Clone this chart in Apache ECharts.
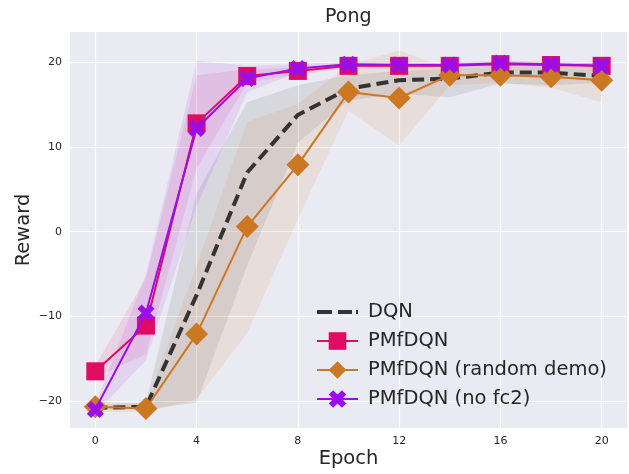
<!DOCTYPE html>
<html>
<head>
<meta charset="utf-8">
<script src="https://cdn.jsdelivr.net/npm/echarts@6/dist/echarts.min.js"></script>
<style>html,body{margin:0;padding:0;background:#fff}#c{width:629px;height:474px}</style>
</head>
<body>
<div id="c"></div>
<script>
const epochs = [0, 2, 4, 6, 8, 10, 12, 14, 16, 18, 20];
const xTicks = [0, 4, 8, 12, 16, 20];
const yTicks = [-20, -10, 0, 10, 20];
const names = ['DQN', 'PMfDQN', 'PMfDQN (random demo)', 'PMfDQN (no fc2)'];

const dqn   = [-20.8, -20.7, -7.5, 7.0, 13.8, 16.9, 17.9, 18.1, 18.8, 18.8, 18.4];
const dqnLo = [-21.0, -21.0, -20.2, -4.0, 10.5, 15.5, 16.3, 15.9, 17.5, 17.3, 17.6];
const dqnHi = [-20.5, -20.2, 4.5, 15.3, 17.3, 18.5, 19.0, 19.3, 19.5, 19.4, 19.3];

const pm   = [-16.5, -11.1, 12.8, 18.4, 19.0, 19.6, 19.6, 19.6, 19.8, 19.7, 19.6];
const pmLo = [-17.2, -14.5, 7.5, 17.6, 18.6, 19.3, 19.3, 19.3, 19.5, 19.4, 19.3];
const pmHi = [-15.8, -5.5, 18.5, 19.2, 19.4, 19.9, 19.9, 19.9, 20.1, 20.0, 19.9];

const rd   = [-20.7, -20.9, -12.1, 0.6, 7.9, 16.5, 15.8, 18.5, 18.5, 18.3, 17.9];
const rdLo = [-21.3, -21.3, -19.8, -12.0, 1.5, 14.3, 10.2, 17.3, 17.6, 17.0, 15.3];
const rdHi = [-20.1, -20.4, -4.0, 13.0, 15.1, 19.7, 21.4, 19.3, 19.6, 19.4, 20.3];

const nf   = [-21.0, -9.6, 12.2, 18.1, 19.3, 19.8, 19.7, 19.7, 19.9, 19.8, 19.6];
const nfLo = [-21.5, -15.2, 3.0, 16.5, 18.8, 19.5, 19.4, 19.4, 19.6, 19.5, 19.3];
const nfHi = [-20.5, -5.0, 20.2, 19.6, 19.8, 20.1, 20.0, 20.0, 20.2, 20.1, 19.9];

const C_DQN = '#333333', C_PM = '#de0c62', C_RD = '#cc7722', C_NF = '#9b0eea';
const FONT = 'DejaVu Sans';
const XSYM = 'path://M2.5,0 L5,2.5 L7.5,0 L10,2.5 L7.5,5 L10,7.5 L7.5,10 L5,7.5 L2.5,10 L0,7.5 L2.5,5 L0,2.5 Z';
const DASH_ICON = 'path://M0,0h15v4h-15Z M21,0h14v4h-14Z M39,0h2v4h-2Z';

function pairs(v) { return epochs.map((e, i) => [e, v[i]]); }
function band(lo, hi, color, op) {
  return {
    type: 'custom', silent: true, z: 1, data: [[epochs[0], lo[0]]],
    renderItem: function (params, api) {
      const pts = [];
      for (let i = 0; i < epochs.length; i++) pts.push(api.coord([epochs[i], hi[i]]));
      for (let i = epochs.length - 1; i >= 0; i--) pts.push(api.coord([epochs[i], lo[i]]));
      return { type: 'polygon', shape: { points: pts }, style: { fill: color, opacity: op } };
    }
  };
}
const minus = v => String(v).replace('-', '\u2212');

const chart = echarts.init(document.getElementById('c'), null, { renderer: 'canvas' });
chart.setOption({
  animation: false,
  textStyle: { fontFamily: FONT },
  title: { text: 'Pong', left: 325, top: 8, padding: 0,
    textStyle: { fontFamily: FONT, fontSize: 19, fontWeight: 'normal', color: '#262626' } },
  grid: { left: 70, right: 2, top: 32, bottom: 46, show: true, backgroundColor: '#eaeaf2', borderWidth: 0,
    containLabel: false, outerBoundsMode: 'none' },
  legend: {
    data: [
      { name: names[0], icon: DASH_ICON, itemStyle: { color: C_DQN } },
      names[1], names[2], names[3]
    ],
    orient: 'vertical', left: 311, top: 297, itemWidth: 41, itemHeight: 22, itemGap: 9,
    textStyle: { fontFamily: FONT, fontSize: 19.5, color: '#262626', padding: [0, 0, 0, 5] }
  },
  xAxis: {
    type: 'value', min: -1, max: 21, name: 'Epoch', nameLocation: 'middle', nameGap: 21, nameMoveOverlap: false,
    nameTextStyle: { fontFamily: FONT, fontSize: 19.5, color: '#262626' },
    axisLine: { show: false },
    axisTick: { show: false, customValues: xTicks },
    axisLabel: { customValues: xTicks, fontSize: 11, color: '#262626', margin: 8, fontFamily: FONT },
    splitLine: { show: true, lineStyle: { color: '#ffffff', width: 1.2 } }
  },
  yAxis: {
    type: 'value', min: -23.2, max: 23.6, name: 'Reward', nameLocation: 'middle', nameGap: 36, nameMoveOverlap: false,
    nameTextStyle: { fontFamily: FONT, fontSize: 19.5, color: '#262626' },
    axisLine: { show: false },
    axisTick: { show: false, customValues: yTicks },
    axisLabel: { customValues: yTicks, formatter: minus, fontSize: 11, color: '#262626', margin: 8, fontFamily: FONT },
    splitLine: { show: true, lineStyle: { color: '#ffffff', width: 1.2 } }
  },
  series: [
    band(dqnLo, dqnHi, C_DQN, 0.1),
    band(pmLo, pmHi, C_PM, 0.1),
    band(rdLo, rdHi, C_RD, 0.1),
    band(nfLo, nfHi, C_NF, 0.1),
    { name: names[0], type: 'line', z: 2, data: pairs(dqn), symbol: 'none', color: C_DQN,
      lineStyle: { color: C_DQN, width: 4, type: [12, 6] } },
    { name: names[1], type: 'line', z: 3, data: pairs(pm), symbol: 'rect', symbolSize: 18, color: C_PM,
      itemStyle: { color: C_PM }, lineStyle: { color: C_PM, width: 2 } },
    { name: names[2], type: 'line', z: 4, data: pairs(rd), symbol: 'diamond', symbolSize: 23, color: C_RD,
      itemStyle: { color: C_RD }, lineStyle: { color: C_RD, width: 2 } },
    { name: names[3], type: 'line', z: 5, data: pairs(nf), symbol: XSYM, symbolSize: 17, color: C_NF,
      itemStyle: { color: C_NF }, lineStyle: { color: C_NF, width: 2 } }
  ]
});
</script>
</body>
</html>
